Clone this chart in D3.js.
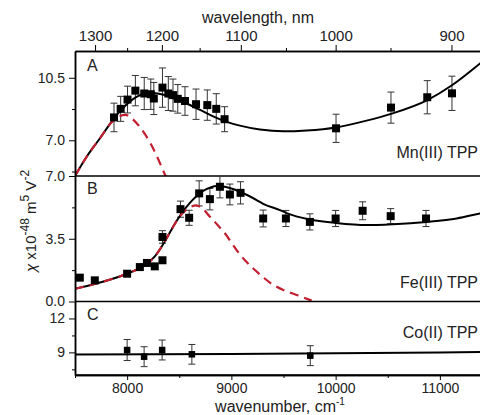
<!DOCTYPE html>
<html>
<head>
<meta charset="utf-8">
<script src="https://cdn.jsdelivr.net/npm/d3@7"></script>
<style>
body { margin: 0; background: #fff; }
text { font-family: Arial, "Liberation Sans", sans-serif; fill: #222; }
</style>
</head>
<body>
<svg id="chart" width="480" height="415"></svg>
<script>
// axis ticks
const wavenumberTicks = [8000, 9000, 10000, 11000];
const wavenumberMinorTicks = [7500, 8500, 9500, 10500];
const wavelengthTicks = [1300, 1200, 1100, 1000, 900];
const wavelengthMinorTicks = [1250, 1150, 1050, 950];

// panel A: Mn(III) TPP
const mnWavenumber = [7874, 7938, 8004, 8079, 8164, 8227, 8256, 8339, 8395, 8440, 8486, 8555, 8661, 8769, 8855, 8935, 10004, 10531, 10879, 11116];
const mnChi = [8.28, 8.76, 9.28, 9.78, 9.62, 9.58, 9.34, 9.95, 9.62, 9.53, 9.32, 9.2, 9.02, 8.97, 8.76, 8.18, 7.67, 8.83, 9.41, 9.63];
const mnErr = [0.8, 0.7, 0.75, 0.85, 0.9, 0.85, 0.9, 1.1, 0.95, 0.9, 0.8, 0.8, 0.85, 0.85, 0.85, 0.7, 0.79, 0.87, 0.93, 0.96];
const mnFitX = [7500, 7610, 7738, 7850, 7950, 8050, 8150, 8250, 8350, 8450, 8586, 8700, 8820, 8954, 9082, 9274, 9497, 9722, 10003, 10297, 10531, 10880, 11116, 11385, 11500];
const mnFitY = [5.0, 6.06, 7.1, 8.03, 8.75, 9.28, 9.58, 9.65, 9.55, 9.33, 9.02, 8.7, 8.35, 8.03, 7.82, 7.6, 7.5, 7.55, 7.72, 8.1, 8.48, 9.25, 10.08, 11.3, 11.85];
const mnBandX = [7500, 7610, 7738, 7850, 7930, 7985, 8040, 8100, 8165, 8234, 8290, 8345, 8380];
const mnBandY = [5.0, 6.06, 7.1, 8.0, 8.35, 8.42, 8.25, 7.9, 7.4, 6.72, 6.05, 5.31, 4.85];

// panel B: Fe(III) TPP
const feWavenumber = [7546, 7690, 8000, 8122, 8190, 8265, 8339, 8339, 8512, 8595, 8691, 8794, 8890, 8986, 9088, 9305, 9523, 9753, 10000, 10259, 10528, 10867];
const feChi = [1.33, 1.18, 1.55, 1.92, 2.15, 1.96, 2.3, 3.6, 5.15, 4.67, 6.03, 5.71, 6.4, 5.97, 6.06, 4.63, 4.63, 4.44, 4.63, 5.06, 4.76, 4.63];
const feErr = [0.12, 0.1, 0.1, 0.12, 0.12, 0.12, 0.12, 0.35, 0.45, 0.42, 0.7, 0.6, 0.62, 0.58, 0.62, 0.47, 0.45, 0.45, 0.45, 0.5, 0.42, 0.45];
const feFitX = [7500, 7697, 8000, 8100, 8188, 8270, 8341, 8410, 8476, 8540, 8602, 8670, 8729, 8800, 8858, 8920, 9000, 9082, 9242, 9305, 9466, 9530, 9753, 10000, 10297, 10553, 10873, 11161, 11385, 11500];
const feFitY = [0.71, 0.99, 1.55, 1.8, 2.1, 2.55, 3.15, 3.85, 4.5, 5.05, 5.5, 5.9, 6.17, 6.36, 6.44, 6.42, 6.3, 6.12, 5.66, 5.45, 5.1, 4.93, 4.57, 4.38, 4.26, 4.31, 4.44, 4.63, 4.91, 5.05];
const feBandX = [7500, 7697, 8000, 8100, 8188, 8270, 8341, 8410, 8476, 8540, 8600, 8664, 8720, 8795, 8870, 8939, 9051, 9130, 9210, 9300, 9370, 9435, 9498, 9580, 9658, 9770];
const feBandY = [0.71, 0.99, 1.55, 1.8, 2.1, 2.55, 3.15, 3.85, 4.5, 4.98, 5.25, 5.36, 5.2, 4.72, 4.25, 3.79, 2.86, 2.3, 1.84, 1.38, 1.05, 0.82, 0.64, 0.46, 0.3, 0.05];

// panel C: Co(II) TPP
const coWavenumber = [8000, 8163, 8336, 8621, 9757];
const coChi = [9.21, 8.62, 9.21, 8.83, 8.71];
const coErr = [0.93, 0.88, 0.88, 0.87, 0.88];
const coFitX = [7500, 9000, 10000, 11000, 11500];
const coFitY = [8.82, 8.86, 8.92, 9.0, 9.05];

const svg = d3.select('#chart');
const left = 75, right = 492;
const redColor = '#c21f30';

const x = d3.scaleLinear().domain([7500, 11500]).range([left, right]);

const panels = [
	{ id: 'A', name: 'Mn(III) TPP', domain: [5, 12], range: [176, 51], ticks: [7.0, 10.5], minor: [5.25, 8.75], fmt: d3.format('.1f'),
		px: mnWavenumber, py: mnChi, pe: mnErr, fx: mnFitX, fy: mnFitY, bx: mnBandX, by: mnBandY, size: 8, nameY: 158, letterY: 71 },
	{ id: 'B', name: 'Fe(III) TPP', domain: [0, 7], range: [301.5, 176], ticks: [0, 3.5, 7.0], minor: [1.75, 5.25], fmt: d3.format('.1f'),
		px: feWavenumber, py: feChi, pe: feErr, fx: feFitX, fy: feFitY, bx: feBandX, by: feBandY, size: 8, nameY: 288, letterY: 194 },
	{ id: 'C', name: 'Co(II) TPP', domain: [7, 13.5], range: [375, 301.5], ticks: [9, 12], minor: [7.5, 10.5], fmt: d3.format('d'),
		px: coWavenumber, py: coChi, pe: coErr, fx: coFitX, fy: coFitY, bx: null, by: null, size: 6.5, nameY: 338, letterY: 320 }
];

panels.forEach(function(p) {
	let y = d3.scaleLinear().domain(p.domain).range(p.range);
	let g = svg.append('g');
	let clipId = 'clip' + p.id;

	svg.append('clipPath').attr('id', clipId)
		.append('rect')
		.attr('x', left).attr('y', p.range[1])
		.attr('width', right - left).attr('height', p.range[0] - p.range[1]);

	let line = d3.line()
		.x(function(d) { return x(d[0]); })
		.y(function(d) { return y(d[1]); })
		.curve(d3.curveMonotoneX);

	let plot = g.append('g').attr('clip-path', 'url(#' + clipId + ')');

	// error bars
	let bars = plot.selectAll('.err')
		.data(p.px.map(function(w, i) { return [w, p.py[i], p.pe[i]]; }))
		.enter().append('g')
		.style('stroke', '#333').style('stroke-width', 1);
	bars.append('line')
		.attr('x1', function(d) { return x(d[0]); }).attr('x2', function(d) { return x(d[0]); })
		.attr('y1', function(d) { return y(d[1] - d[2]); }).attr('y2', function(d) { return y(d[1] + d[2]); });
	bars.append('line')
		.attr('x1', function(d) { return x(d[0]) - 3.5; }).attr('x2', function(d) { return x(d[0]) + 3.5; })
		.attr('y1', function(d) { return y(d[1] + d[2]); }).attr('y2', function(d) { return y(d[1] + d[2]); });
	bars.append('line')
		.attr('x1', function(d) { return x(d[0]) - 3.5; }).attr('x2', function(d) { return x(d[0]) + 3.5; })
		.attr('y1', function(d) { return y(d[1] - d[2]); }).attr('y2', function(d) { return y(d[1] - d[2]); });

	// fit curve
	plot.append('path')
		.datum(p.fx.map(function(w, i) { return [w, p.fy[i]]; }))
		.attr('d', line)
		.style('fill', 'none').style('stroke', '#000').style('stroke-width', 2);

	// single band contribution
	if (p.bx)
		plot.append('path')
			.datum(p.bx.map(function(w, i) { return [w, p.by[i]]; }))
			.attr('d', line)
			.style('fill', 'none').style('stroke', redColor).style('stroke-width', 2.2)
			.style('stroke-dasharray', '9,6');

	// squares
	plot.selectAll('.pt')
		.data(p.px.map(function(w, i) { return [w, p.py[i]]; }))
		.enter().append('rect')
		.attr('x', function(d) { return x(d[0]) - p.size / 2; })
		.attr('y', function(d) { return y(d[1]) - p.size / 2; })
		.attr('width', p.size).attr('height', p.size)
		.style('fill', '#000');

	// left axis
	let axis = g.append('g').attr('transform', 'translate(' + left + ',0)')
		.call(d3.axisLeft(y).tickValues(p.ticks).tickFormat(p.fmt).tickSize(6).tickSizeOuter(0).tickPadding(4));
	g.append('g').attr('transform', 'translate(' + left + ',0)')
		.call(d3.axisLeft(y).tickValues(p.minor).tickFormat('').tickSize(3).tickSizeOuter(0));
	g.selectAll('.domain').style('stroke', '#000').style('stroke-width', 1.5);
	axis.selectAll('text').style('font-size', '14px').style('fill', '#222');

	// panel separator
	g.append('line')
		.attr('x1', left).attr('x2', right)
		.attr('y1', y.range()[0]).attr('y2', y.range()[0])
		.style('stroke', '#000').style('stroke-width', 1.5);

	g.append('text').attr('x', 87).attr('y', p.letterY)
		.style('font-size', '16px').text(p.id);
	g.append('text').attr('x', 478).attr('y', p.nameY)
		.attr('text-anchor', 'end').style('font-size', '16px').text(p.name);
});

// bottom axis
const bottomAxis = svg.append('g').attr('transform', 'translate(0,375)')
	.call(d3.axisBottom(x).tickValues(wavenumberTicks).tickFormat(d3.format('d')).tickSize(5).tickSizeOuter(0).tickPadding(3));
svg.append('g').attr('transform', 'translate(0,375)')
	.call(d3.axisBottom(x).tickValues(wavenumberMinorTicks).tickFormat('').tickSize(3).tickSizeOuter(0));

// top axis (wavelength)
const topAxis = svg.append('g').attr('transform', 'translate(0,51)')
	.call(d3.axisTop(x).tickValues(wavelengthTicks.map(function(nm) { return 1e7 / nm; }))
		.tickFormat(function(d, i) { return wavelengthTicks[i]; }).tickSize(6).tickSizeOuter(0).tickPadding(4));
svg.append('g').attr('transform', 'translate(0,51)')
	.call(d3.axisTop(x).tickValues(wavelengthMinorTicks.map(function(nm) { return 1e7 / nm; }))
		.tickFormat('').tickSize(3).tickSizeOuter(0));

svg.selectAll('.domain').style('stroke', '#000').style('stroke-width', 1.5);
svg.selectAll('.tick line').style('stroke', '#000');
bottomAxis.selectAll('text').style('font-size', '14px').style('fill', '#222');
topAxis.selectAll('text').style('font-size', '15px').style('fill', '#222');

// axis titles
const xTitle = svg.append('text').attr('x', 280).attr('y', 412)
	.attr('text-anchor', 'middle').style('font-size', '16px');
xTitle.append('tspan').text('wavenumber, cm');
xTitle.append('tspan').attr('dy', -7).style('font-size', '10px').text('-1');

svg.append('text').attr('x', 258).attr('y', 23)
	.attr('text-anchor', 'middle').style('font-size', '16px').text('wavelength, nm');

const yTitle = svg.append('text')
	.attr('transform', 'translate(36,221) rotate(-90)')
	.attr('text-anchor', 'middle').style('font-size', '15px');
yTitle.append('tspan').style('font-style', 'italic').text('χ');
yTitle.append('tspan').text(' x10');
yTitle.append('tspan').attr('dy', -7).style('font-size', '12px').text('-48');
yTitle.append('tspan').attr('dy', 7).text(' m');
yTitle.append('tspan').attr('dy', -7).style('font-size', '12px').text('5');
yTitle.append('tspan').attr('dy', 7).text(' V');
yTitle.append('tspan').attr('dy', -7).style('font-size', '12px').text('-2');
</script>
</body>
</html>
